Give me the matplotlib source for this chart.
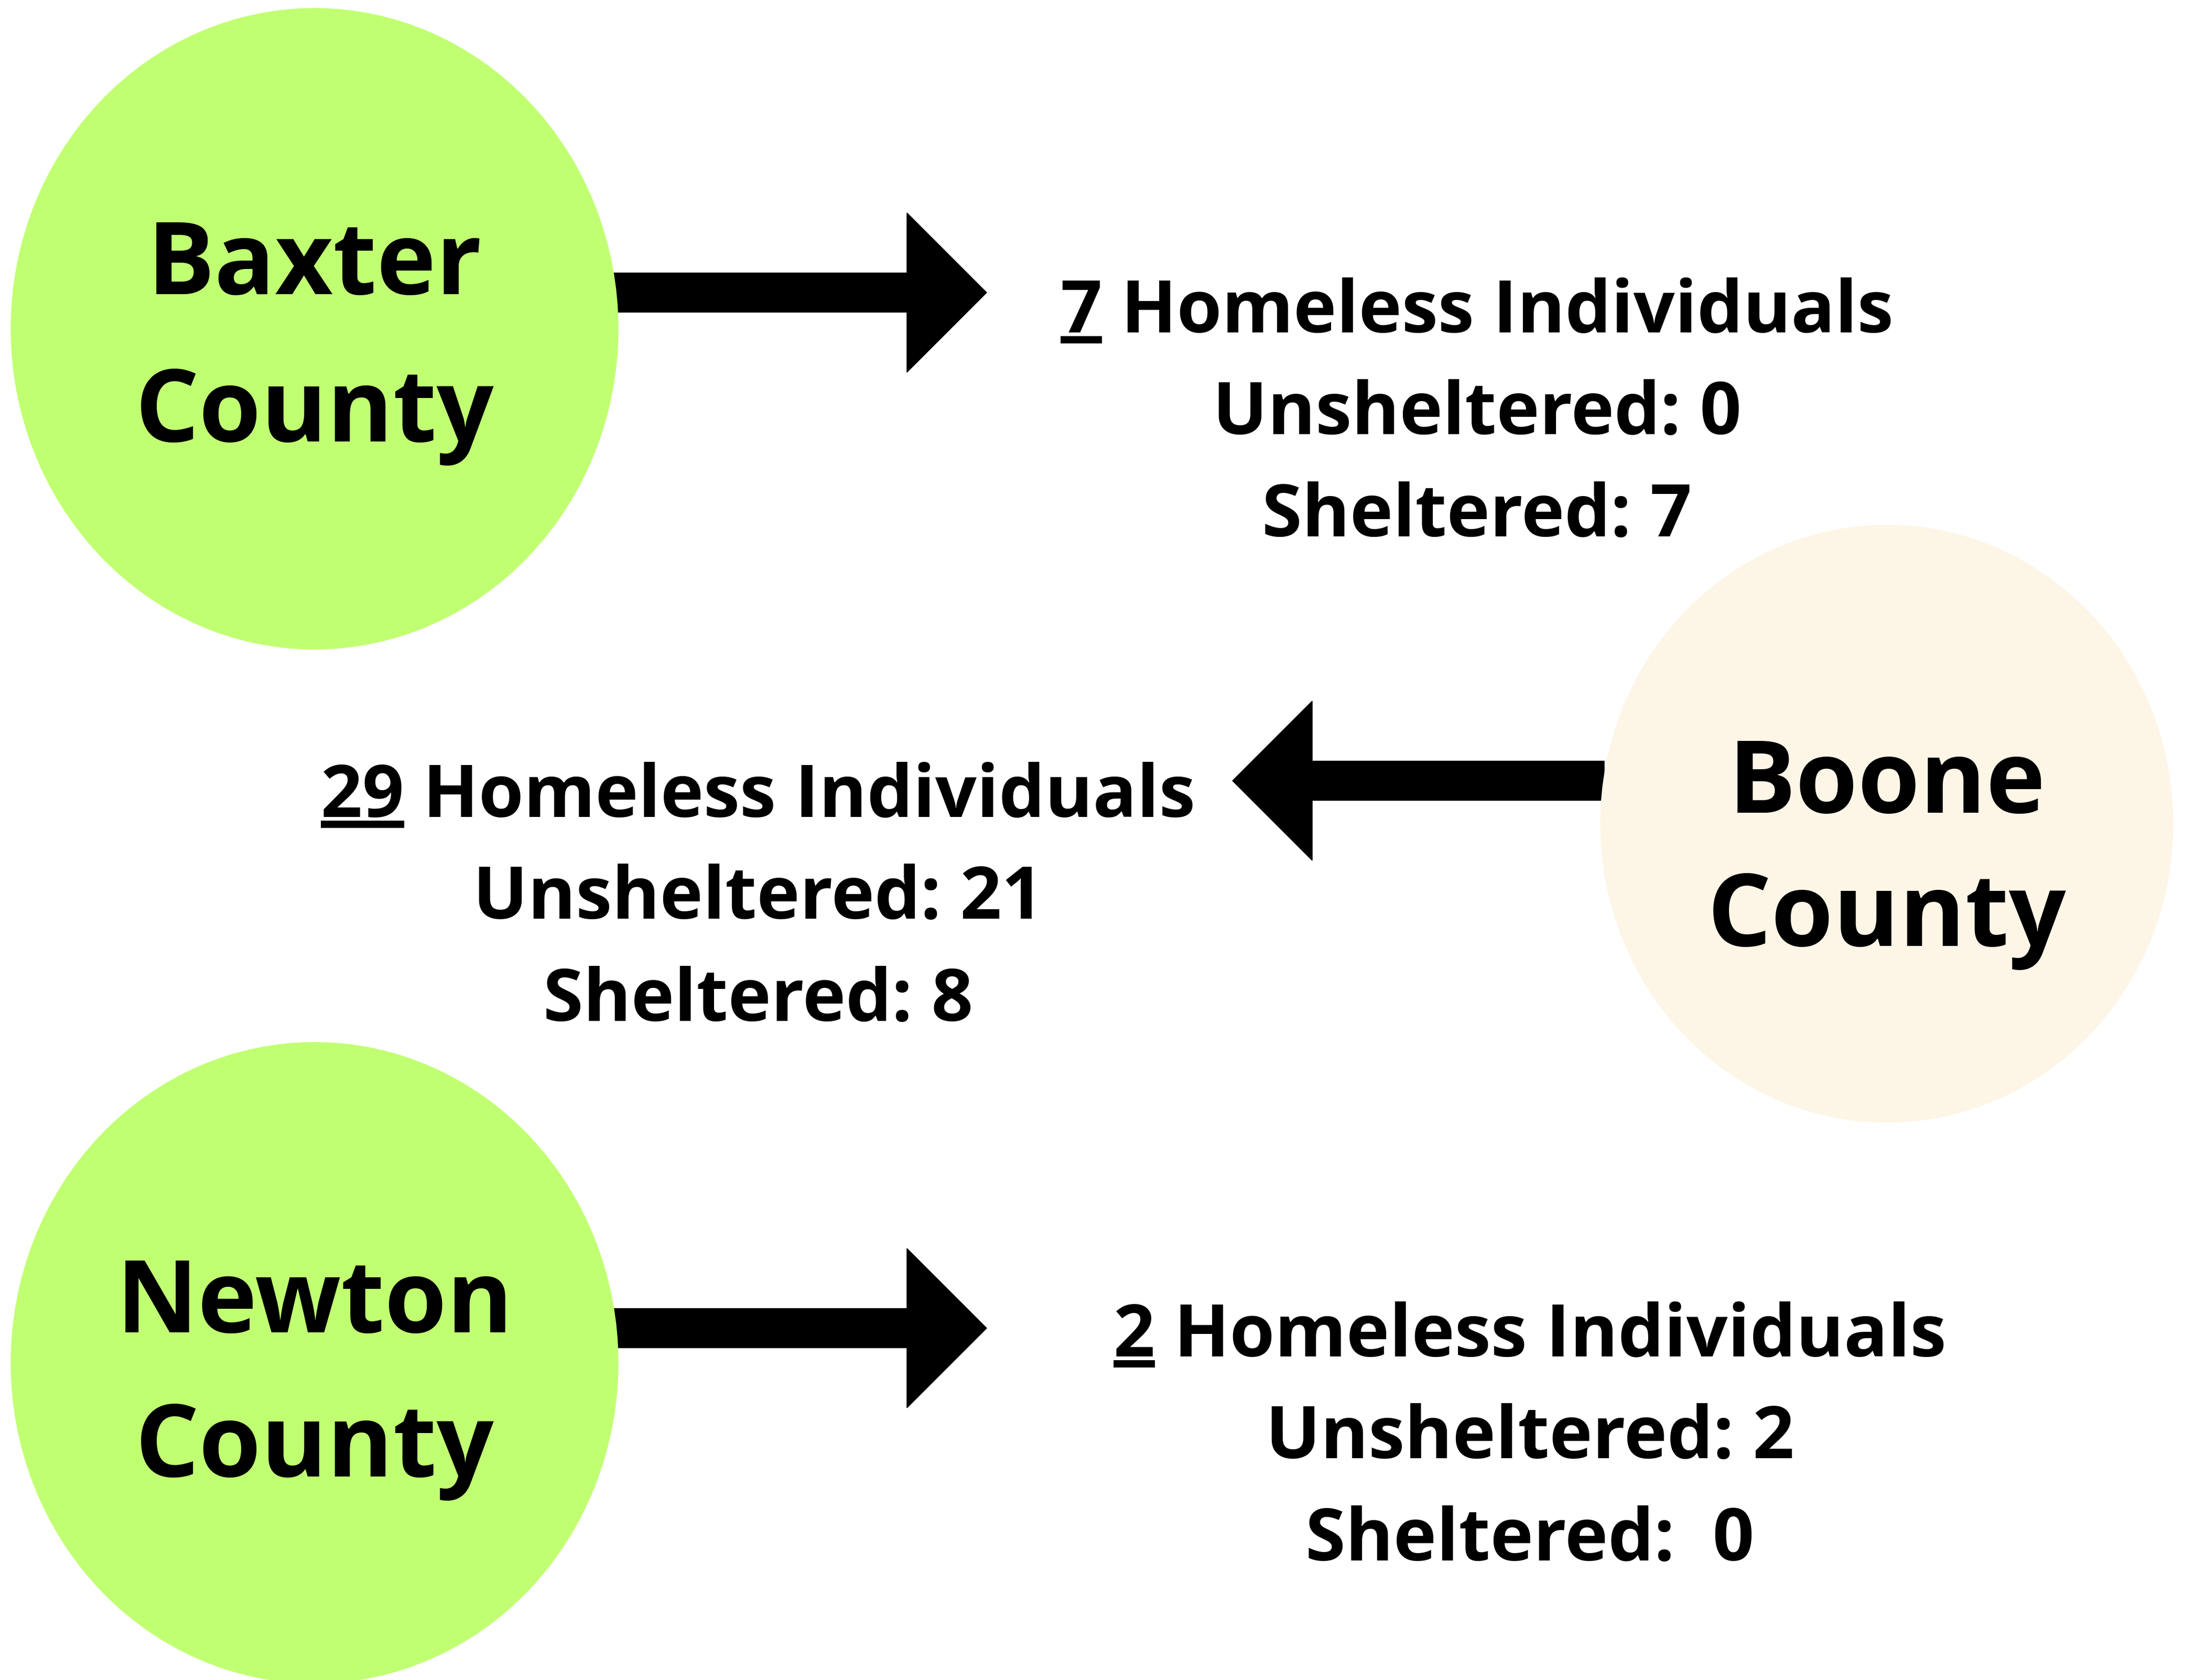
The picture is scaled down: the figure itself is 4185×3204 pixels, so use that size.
import matplotlib.pyplot as plt
from matplotlib.patches import Ellipse, Polygon

plt.rcParams['font.family'] = ['Open Sans', 'DejaVu Sans']

# data
counties = ["Baxter\nCounty", "Boone\nCounty", "Newton\nCounty"]
totals = [7, 29, 2]
unsheltered = [0, 21, 2]
sheltered = [7, 8, 0]
sheltered_sep = [" ", " ", "  "]
circle_colors = ["#C1FF72", "#FDF6E7", "#C1FF72"]

# layout (pixels, y down)
W, H = 4185, 3204
circle_xy = [(600, 627), (3599, 1571), (600, 2599)]
circle_wh = [(1158, 1222), (1092, 1139), (1158, 1222)]
name_y = [(561, 842), (1550, 1804), (2541, 2816)]
text_x = [2817, 1446, 2918]
text_y = [633, 1557, 2586]
arrow_dir = [1, -1, 1]
arrow_y = [558, 1489, 2533]
arrow_tail = [1170, 3060, 1170]
arrow_tip = [1882, 2351, 1882]

fig = plt.figure(figsize=(W / 100, H / 100), dpi=100)
ax = fig.add_axes([0, 0, 1, 1])
ax.set_xlim(0, W)
ax.set_ylim(H, 0)
ax.axis('off')


def draw_arrow(y, tail, tip, d, shaft=75, head_len=152, head_w=304):
    base = tip - d * head_len
    pts = [(tail, y - shaft / 2), (base, y - shaft / 2), (base, y - head_w / 2),
           (tip, y), (base, y + head_w / 2), (base, y + shaft / 2), (tail, y + shaft / 2)]
    ax.add_patch(Polygon(pts, closed=True, color="black", zorder=1))


for i in range(3):
    ax.add_patch(Ellipse(circle_xy[i], circle_wh[i][0], circle_wh[i][1],
                         color=circle_colors[i], zorder=2))
    top, bottom = counties[i].split("\n")
    ax.text(circle_xy[i][0], name_y[i][0], top, ha='center', va='baseline',
            fontsize=138, fontweight='bold', zorder=3)
    ax.text(circle_xy[i][0], name_y[i][1], bottom, ha='center', va='baseline',
            fontsize=138, fontweight='bold', zorder=3)
    draw_arrow(arrow_y[i], arrow_tail[i], arrow_tip[i], arrow_dir[i])

    lines = [f"{totals[i]} Homeless Individuals",
             f"Unsheltered: {unsheltered[i]}",
             f"Sheltered:{sheltered_sep[i]}{sheltered[i]}"]
    for j, s in enumerate(lines):
        ax.text(text_x[i], text_y[i] + j * 195, s, ha='center', va='baseline',
                fontsize=100, fontweight='bold')

# underline the totals
fig.canvas.draw()
r = fig.canvas.get_renderer()
for i in range(3):
    full = ax.text(0, 0, f"{totals[i]} Homeless Individuals", fontsize=100, fontweight='bold')
    num = ax.text(0, 0, f"{totals[i]}", fontsize=100, fontweight='bold')
    fw = full.get_window_extent(r).width
    nw = num.get_window_extent(r).width
    full.remove()
    num.remove()
    x0 = text_x[i] - fw / 2
    ax.plot([x0, x0 + nw], [text_y[i] + 15, text_y[i] + 15], color='black',
            lw=10, solid_capstyle='butt')

fig.savefig("out.png", dpi=100, facecolor="white")
